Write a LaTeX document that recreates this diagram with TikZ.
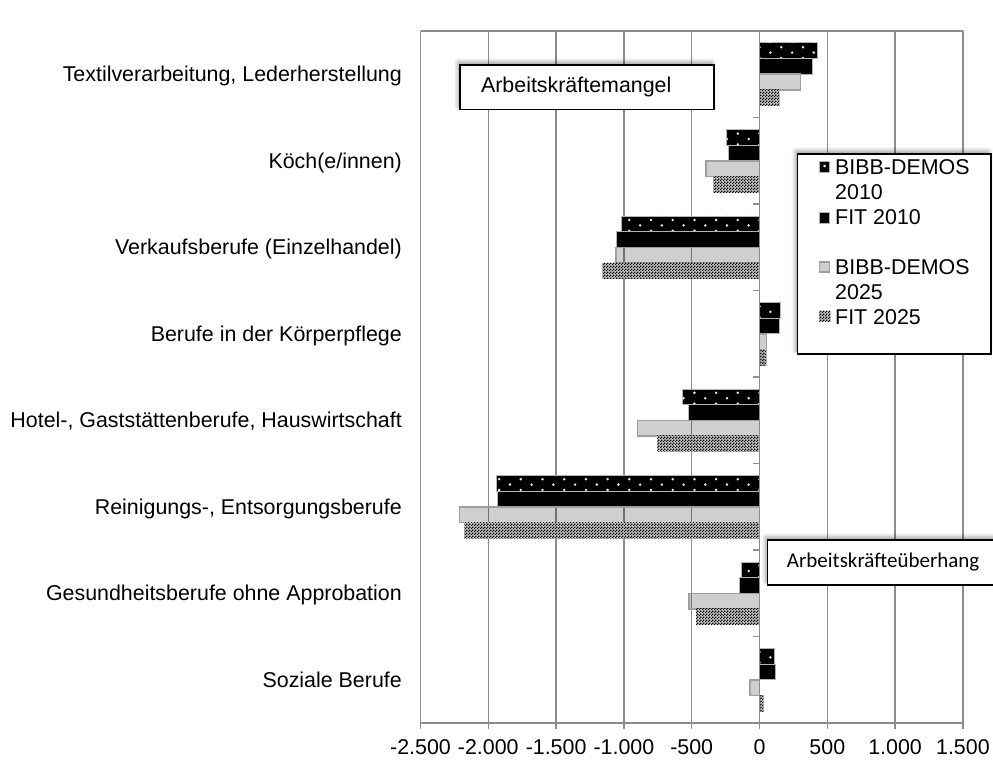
\documentclass[tikz,border=0pt]{standalone}
\usepackage{fontspec}
\setmainfont{Liberation Sans}
\newfontfamily\carlito{Carlito}
\usetikzlibrary{patterns, shadows.blur}

\pgfdeclarepatternformonly{whitedots}{\pgfqpoint{-1.6pt}{-1.6pt}}{\pgfqpoint{23.3pt}{12.4pt}}{\pgfqpoint{21.7pt}{10.8pt}}%
{\pgfpathcircle{\pgfqpoint{0pt}{0pt}}{1.4pt}\pgfpathcircle{\pgfqpoint{10.85pt}{5.4pt}}{1.4pt}\pgfusepath{fill}}
\pgfdeclarepatternformonly{finecheck}{\pgfqpoint{0pt}{0pt}}{\pgfqpoint{3pt}{3pt}}{\pgfqpoint{3pt}{3pt}}%
{\pgfpathrectangle{\pgfqpoint{0pt}{0pt}}{\pgfqpoint{1.5pt}{1.5pt}}\pgfpathrectangle{\pgfqpoint{1.5pt}{1.5pt}}{\pgfqpoint{1.5pt}{1.5pt}}\pgfusepath{fill}}

\tikzset{
    bibbold/.style={draw=gray!60, line width=0.7pt, fill=black, postaction={pattern=whitedots, pattern color=white!80!gray}},
    fitold/.style={draw=gray!60, line width=0.7pt, fill=black},
    bibbnew/.style={draw=gray!75, line width=1.5pt, fill=black, fill opacity=0.19},
    fitnew/.style={draw=gray!50, line width=0.5pt, fill=gray!50, postaction={pattern=finecheck, pattern color=black}},
    gridline/.style={draw=gray!90, line width=1.5pt},
    textbox/.style={draw=black, line width=1.5pt, fill=white, inner sep=0pt,
        blur shadow={shadow xshift=-2pt, shadow yshift=3pt, shadow blur radius=4pt}},
}

\begin{document}
\begin{tikzpicture}[x=1pt, y=-1pt, font=\fontsize{21.4}{25}\selectfont]
\useasboundingbox (0,0) rectangle (993,760);
\foreach \v in {-2500,-2000,...,1500}
    \draw[gridline] ({759.5+0.1356*\v},31) -- ({759.5+0.1356*\v},729);
\draw[gridline] (420.5,31) -- (962.9,31);
\draw[gridline] (420.5,723) -- (962.9,723);
% bars: BIBB-DEMOS 2010, FIT 2010, BIBB-DEMOS 2025, FIT 2025
\foreach \c/\a/\b/\d/\e [count=\i] in {
    {Textilverarbeitung, Lederherstellung}/426/389/304/144,
    {Köch(e/innen)}/-242/-230/-395/-341,
    {Verkaufsberufe (Einzelhandel)}/-1021/-1058/-1058/-1156,
    {Berufe in der Körperpflege}/156/144/53/48,
    {Hotel-, Gaststättenberufe, Hauswirtschaft}/-569/-522/-901/-754,
    {Reinigungs-, Entsorgungsberufe}/-1943/-1931/-2214/-2179,
    {Gesundheitsberufe ohne Approbation}/-136/-149/-520/-468,
    {Soziale Berufe}/109/119/-70/28}{
    \pgfmathsetmacro\yc{31+(\i-0.5)*86.5}
    \draw[bibbold] (759.5,\yc-31.4) rectangle ({759.5+0.1356*\a},\yc-15.7);
    \draw[fitold] (759.5,\yc-15.7) rectangle ({759.5+0.1356*\b},\yc);
    \draw[bibbnew] (759.5,\yc) rectangle ({759.5+0.1356*\d},\yc+15.7);
    \draw[fitnew] (759.5,\yc+15.7) rectangle ({759.5+0.1356*\e},\yc+31.4);
    \node[anchor=base east, inner sep=0pt] (cat\i) at (402,\yc+7.5) {\c};
}
\draw[gridline] (759.5,31) -- (759.5,729);
\foreach \i in {0,...,8}
    \draw[gridline] (753,31+86.5*\i) -- (759.5,31+86.5*\i);
\foreach \v/\t in {-2500/-2.500,-2000/-2.000,-1500/-1.500,-1000/-1.000,-500/-500,0/0,500/500,1000/1.000,1500/1.500}
    \node[anchor=base, inner sep=0pt] (tick\v) at ({759.5+0.1356*\v},754) {\t};
\node[textbox, anchor=north west, minimum width=254pt, minimum height=44.4pt, text width=212pt, align=left] (mangel) at (459.3,64.3) {Arbeitskräftemangel};
\node[textbox, anchor=north west, minimum width=230pt, minimum height=44.7pt, text width=191pt, align=left, font=\carlito\fontsize{21}{25}\selectfont] (ueberhang) at (766.7,539.3) {Arbeitskräfteüberhang};
\node[textbox, anchor=north west, minimum width=193.3pt, minimum height=200pt] (legend) at (796.7,153.3) {};
\node[bibbold, minimum size=10.5pt, inner sep=0pt] (keya) at (824.5,166.7) {};
\node[anchor=base west, inner sep=0pt] (txta) at (835,174.3) {BIBB-DEMOS};
\node[anchor=base west, inner sep=0pt] (txtaa) at (835,199.3) {2010};
\node[fitold, minimum size=10.5pt, inner sep=0pt] (keyb) at (824.5,218) {};
\node[anchor=base west, inner sep=0pt] (txtb) at (835,224.8) {FIT 2010};
\node[bibbnew, minimum size=10pt, inner sep=0pt] (keyc) at (824.5,267.2) {};
\node[anchor=base west, inner sep=0pt] (txtc) at (835,274.3) {BIBB-DEMOS};
\node[anchor=base west, inner sep=0pt] (txtcc) at (835,299.3) {2025};
\node[fitnew, minimum size=10.5pt, inner sep=0pt] (keyd) at (824.5,316) {};
\node[anchor=base west, inner sep=0pt] (txtd) at (835,324.3) {FIT 2025};
\end{tikzpicture}
\end{document}
